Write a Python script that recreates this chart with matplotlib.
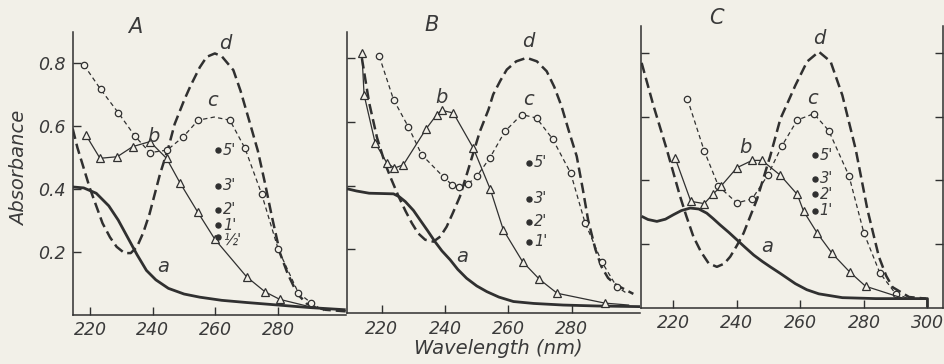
import matplotlib
matplotlib.use("Agg")
import matplotlib.pyplot as plt

# ---------------- data ----------------
# Panel A
a_A_x = [214.5, 218, 222, 226, 229, 232, 235, 238, 241, 245, 250, 255, 262, 270, 280, 290, 301.5]
a_A_y = [0.405, 0.402, 0.385, 0.345, 0.30, 0.245, 0.19, 0.14, 0.11, 0.083, 0.065, 0.055, 0.045, 0.038, 0.03, 0.022, 0.015]
d_A_x = [214.5, 216, 218, 220, 222, 224, 226.4, 228.5, 231, 233, 235, 237, 239, 242.3, 245, 247, 250, 252, 255, 257.2, 259.8, 262, 265.7, 268, 271, 273.5, 275.8, 278, 280.6, 283, 286, 289, 291.2, 295, 301.5]
d_A_y = [0.59, 0.53, 0.465, 0.40, 0.345, 0.29, 0.245, 0.215, 0.195, 0.195, 0.215, 0.26, 0.32, 0.445, 0.53, 0.605, 0.68, 0.725, 0.785, 0.818, 0.829, 0.82, 0.776, 0.71, 0.607, 0.52, 0.416, 0.31, 0.194, 0.13, 0.067, 0.035, 0.025, 0.015, 0.01]
c_A_x = [218.1, 223.4, 229.0, 234.3, 239.1, 244.6, 249.7, 254.5, 259.6, 264.6, 269.4, 274.7, 280.0, 286.4, 290.6, 294.5]
c_A_y = [0.792, 0.715, 0.641, 0.567, 0.514, 0.522, 0.564, 0.617, 0.627, 0.617, 0.528, 0.383, 0.207, 0.069, 0.036, 0.012]
c_A_mark = [0, 1, 2, 3, 4, 5, 6, 7, 9, 10, 11, 12, 13, 14]
b_A_x = [218.7, 223.2, 228.7, 233.6, 239.1, 244.4, 248.7, 254.3, 259.8, 269.9, 275.8, 280.5, 292]
b_A_y = [0.570, 0.496, 0.501, 0.533, 0.549, 0.496, 0.418, 0.326, 0.239, 0.120, 0.072, 0.048, 0.02]
b_A_mark = list(range(12))
dots_A_x = 260.9
dots_A_y = [0.522, 0.409, 0.332, 0.284, 0.247]
dots_A_lab = ["5'", "3'", "2'", "1'", "½'"]

# Panel B
a_B_x = [209, 212, 216, 220, 223.7, 225.5, 227.4, 230, 232.1, 234.5, 236.8, 239, 241.6, 244, 246.8, 250, 253.2, 257, 261.6, 268, 277.3, 288, 301.6]
a_B_y = [0.39, 0.383, 0.376, 0.375, 0.374, 0.365, 0.35, 0.322, 0.292, 0.258, 0.224, 0.195, 0.167, 0.137, 0.109, 0.085, 0.067, 0.05, 0.036, 0.03, 0.025, 0.022, 0.02]
d_B_x = [213.7, 216, 218.5, 221, 223, 225.3, 227.5, 229.5, 231.5, 233.7, 236.3, 238.5, 240.5, 242.5, 244.7, 247, 248.9, 251, 253.7, 255.2, 257.5, 259.5, 262.5, 265.8, 269, 272.1, 274.5, 276.8, 279, 281.6, 283.5, 285.2, 287.5, 289.4, 291.5, 294.1, 299.5]
d_B_y = [0.80, 0.66, 0.55, 0.47, 0.42, 0.366, 0.32, 0.282, 0.25, 0.23, 0.224, 0.24, 0.271, 0.315, 0.366, 0.44, 0.502, 0.57, 0.638, 0.686, 0.73, 0.764, 0.79, 0.801, 0.79, 0.759, 0.71, 0.649, 0.575, 0.492, 0.39, 0.292, 0.2, 0.146, 0.11, 0.088, 0.06]
c_B_x = [219.2, 223.7, 228.4, 232.6, 239.5, 242.1, 244.5, 247.3, 250, 254.1, 258.9, 264.2, 268.9, 274, 279.7, 284.2, 289.5, 294.2, 297.4]
c_B_y = [0.806, 0.67, 0.584, 0.497, 0.427, 0.403, 0.395, 0.406, 0.429, 0.486, 0.57, 0.623, 0.612, 0.546, 0.439, 0.284, 0.161, 0.083, 0.062]
c_B_mark = list(range(18))
b_B_x = [213.7, 214.4, 217.9, 221.6, 224, 226.8, 234, 237.4, 238.9, 242.6, 248.9, 254.3, 258.4, 264.5, 269.8, 275.4, 290.5, 298]
b_B_y = [0.817, 0.685, 0.534, 0.471, 0.455, 0.465, 0.578, 0.623, 0.636, 0.628, 0.518, 0.388, 0.261, 0.161, 0.106, 0.062, 0.031, 0.025]
b_B_mark = list(range(17))
dots_B_x = 266.6
dots_B_y = [0.471, 0.358, 0.287, 0.224]
dots_B_lab = ["5'", "3'", "2'", "1'"]

# Panel C
a_C_x = [210, 212, 214.8, 217.5, 220, 222.5, 225.3, 228, 230.5, 232.5, 234.7, 237.5, 240, 242.5, 245.3, 248, 250.5, 253.7, 258.4, 262, 265.8, 273.2, 283.7, 300, 300]
a_C_y = [0.287, 0.277, 0.271, 0.278, 0.292, 0.305, 0.313, 0.31, 0.297, 0.28, 0.26, 0.236, 0.213, 0.19, 0.165, 0.145, 0.128, 0.107, 0.075, 0.056, 0.043, 0.031, 0.028, 0.028, 0.0]
d_C_x = [210, 213.7, 217.9, 222.1, 224, 226.3, 228.7, 231.1, 233.7, 236, 237.9, 240, 242.1, 246.3, 250.5, 253.7, 256, 258.4, 262.1, 265.8, 269.5, 273.2, 277.4, 281.1, 284.7, 287, 289, 294.2, 299.5]
d_C_y = [0.77, 0.636, 0.498, 0.35, 0.29, 0.223, 0.175, 0.139, 0.128, 0.138, 0.16, 0.195, 0.234, 0.34, 0.477, 0.594, 0.645, 0.699, 0.774, 0.805, 0.774, 0.668, 0.498, 0.308, 0.16, 0.1, 0.064, 0.033, 0.028]
c_C_x = [224.4, 229.7, 234.2, 240, 244.8, 249.7, 254.2, 259, 264.2, 268.9, 275.3, 280, 285, 290, 293.5]
c_C_y = [0.657, 0.493, 0.382, 0.329, 0.342, 0.416, 0.509, 0.59, 0.61, 0.557, 0.414, 0.234, 0.109, 0.043, 0.03]
c_C_mark = list(range(14))
b_C_x = [220.5, 225.5, 229.7, 232.4, 235, 240, 244.8, 247.9, 253.7, 259, 261, 265.3, 270, 275.5, 280.5, 292]
b_C_y = [0.472, 0.334, 0.327, 0.356, 0.382, 0.44, 0.463, 0.463, 0.416, 0.356, 0.303, 0.234, 0.17, 0.112, 0.067, 0.03]
b_C_mark = list(range(15))
dots_C_x = 264.5
dots_C_y = [0.479, 0.405, 0.356, 0.305]
dots_C_lab = ["5'", "3'", "2'", "1'"]

y_ticks = [0.2, 0.4, 0.6, 0.8]
y_tick_labels = ["0.2", "0.4", "0.6", "0.8"]
x_ticks_AB = [220, 240, 260, 280]
x_ticks_C = [220, 240, 260, 280, 300]

panel_titles = ["A", "B", "C"]
curve_names = ["a", "b", "c", "d"]

# ---------------- styling ----------------
BG = "#f2f0e8"
INK = "#303030"
TXT = "#3a3a3a"
plt.rcParams["font.family"] = ["DejaVu Sans"]

W, H = 945, 364
fig = plt.figure(figsize=(W / 100, H / 100), dpi=100, facecolor=BG)


def make_ax(left_px, right_px, zero_px, top_px, xlim, ylim_top):
    ax = fig.add_axes([left_px / W, 1 - zero_px / H, (right_px - left_px) / W, (zero_px - top_px) / H])
    ax.set_facecolor("none")
    ax.set_xlim(*xlim)
    ax.set_ylim(0, ylim_top)
    for s in ax.spines.values():
        s.set_color(INK)
        s.set_linewidth(1.1)
    ax.spines["top"].set_visible(False)
    ax.tick_params(direction="in", length=6, width=1.0, color=INK,
                   labelcolor=TXT, labelsize=12.5, pad=5)
    return ax


axA = make_ax(72.7, 346, 314.5, 31.7, (214.5, 301.6), 0.898)
axB = make_ax(347, 640, 313, 31.7, (209.0, 301.6), 0.883)
axC = make_ax(641, 942.7, 307.5, 26, (209.8, 304.8), 0.886)

axA.spines["right"].set_visible(False)
axB.spines["right"].set_visible(False)
axC.spines["right"].set_visible(True)

for ax, xt in ((axA, x_ticks_AB), (axB, x_ticks_AB), (axC, x_ticks_C)):
    ax.set_xticks(xt)
    ax.set_xticklabels([str(v) for v in xt], fontstyle="italic")
    ax.set_yticks(y_ticks)

axA.set_yticklabels(y_tick_labels, fontstyle="italic")
axB.set_yticklabels([])
axC.set_yticklabels([])
axC.tick_params(axis="y", right=True, direction="in")


def draw_panel(ax, a, d, c, b, cmark, bmark, dx, dys, dlabs):
    ax.plot(a[0], a[1], color=INK, lw=2.0, solid_capstyle="butt", zorder=3)
    ax.plot(d[0], d[1], color=INK, lw=1.8, dashes=(4.2, 2.0), zorder=3)
    ax.plot(c[0], c[1], color=INK, lw=0.9, dashes=(3.5, 2.6), marker="o",
            markevery=cmark, ms=4.6, mfc=BG, mec=INK, mew=0.9, zorder=4)
    ax.plot(b[0], b[1], color=INK, lw=0.9, marker="^",
            markevery=bmark, ms=5.2, mfc=BG, mec=INK, mew=0.9, zorder=4)
    ax.plot([dx] * len(dys), dys, ls="none", marker="o", ms=3.6, color=INK, zorder=5)
    for yv, lab in zip(dys, dlabs):
        dy = -2.5 if lab == "½'" else 0
        ax.annotate(lab, (dx, yv), xytext=(3.5, dy), textcoords="offset points",
                    va="center", ha="left", fontsize=10.5, fontstyle="italic", color=TXT)


draw_panel(axA, (a_A_x, a_A_y), (d_A_x, d_A_y), (c_A_x, c_A_y), (b_A_x, b_A_y),
           c_A_mark, b_A_mark, dots_A_x, dots_A_y, dots_A_lab)
draw_panel(axB, (a_B_x, a_B_y), (d_B_x, d_B_y), (c_B_x, c_B_y), (b_B_x, b_B_y),
           c_B_mark, b_B_mark, dots_B_x, dots_B_y, dots_B_lab)
draw_panel(axC, (a_C_x, a_C_y), (d_C_x, d_C_y), (c_C_x, c_C_y), (b_C_x, b_C_y),
           c_C_mark, b_C_mark, dots_C_x, dots_C_y, dots_C_lab)

# panel letters and curve letters (positions in data coords of each panel)
label_pos = {
    axA: [(234.3, 0.913), (243.4, 0.152), (240.1, 0.565), (259.2, 0.681), (263.0, 0.862)],
    axB: [(235.8, 0.905), (245.3, 0.176), (238.9, 0.678), (266.2, 0.669), (266.2, 0.851)],
    axC: [(233.7, 0.911), (249.5, 0.193), (242.6, 0.505), (263.7, 0.657), (265.8, 0.848)],
}
for ax, title in zip((axA, axB, axC), panel_titles):
    pos = label_pos[ax]
    ax.text(pos[0][0], pos[0][1], title, ha="center", va="center", fontsize=15,
            fontstyle="italic", color=TXT, clip_on=False)
    for (xx, yy), name in zip(pos[1:], curve_names):
        ax.text(xx, yy, name, ha="center", va="center", fontsize=14,
                fontstyle="italic", color=TXT, clip_on=False, zorder=6)

fig.text(20 / W, 1 - 168 / H, "Absorbance", rotation=90, ha="center", va="center",
         fontsize=14, fontstyle="italic", color=TXT)
fig.text(498 / W, 1 - 348 / H, "Wavelength (nm)", ha="center", va="center",
         fontsize=14, fontstyle="italic", color=TXT)

fig.savefig("out.png", dpi=100, facecolor=BG)
